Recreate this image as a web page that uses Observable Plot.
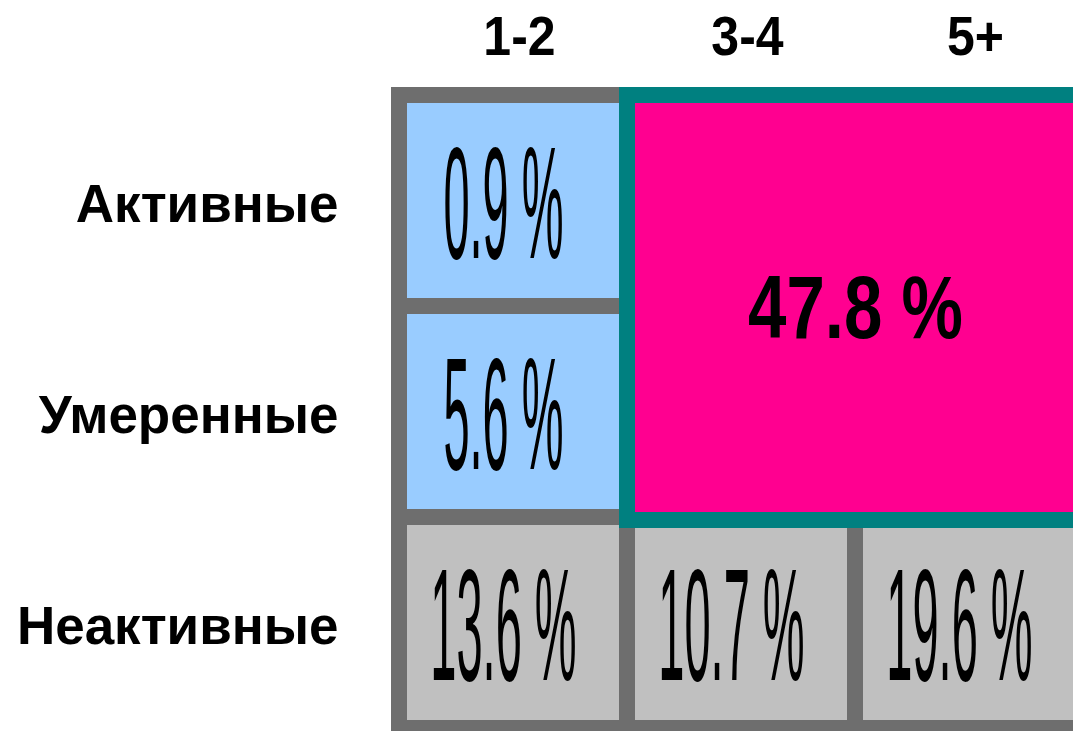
<!DOCTYPE html>
<html>
<head>
<meta charset="utf-8">
<script src="https://cdn.jsdelivr.net/npm/d3@7"></script>
<script src="https://cdn.jsdelivr.net/npm/@observablehq/plot@0.6"></script>
<style>
  html, body { margin: 0; padding: 0; background: #fff; }
  #chart svg { display: block; }
</style>
</head>
<body>
<div id="chart"></div>
<script>
// Column categories (number of ...), row categories (activity level)
const columns = ["1-2", "3-4", "5+"];
const rows = ["Активные", "Умеренные", "Неактивные"];

// Individual cells: row index, column index, percentage
const cellRows = [0, 1, 2, 2, 2];
const cellCols = [0, 0, 0, 1, 2];
const cellValues = [0.9, 5.6, 13.6, 10.7, 19.6];

// Merged cell (rows 0-1, columns 1-2)
const mergedRows = [0, 2];
const mergedCols = [1, 3];
const mergedValue = 47.8;

const cells = cellValues.map((v, i) => ({row: cellRows[i], col: cellCols[i], value: v}));
const merged = [{r1: mergedRows[0], r2: mergedRows[1], c1: mergedCols[0], c2: mergedCols[1], value: mergedValue}];
const colData = columns.map((c, i) => ({label: c, i}));
const rowData = rows.map((r, i) => ({label: r, i}));

const GRID = "#6e6e6e", BLUE = "#99ccff", LIGHT = "#c0c0c0", PINK = "#ff0090", TEAL = "#008080";
const fmt = v => `${v.toFixed(1)} %`;
const FONT = "Liberation Sans, Arial, sans-serif";

const svg = Plot.plot({
  width: 1073,
  height: 731,
  margin: 0,
  style: {background: "#fff", overflow: "hidden"},
  x: {type: "linear", domain: [0, 3], range: [399, 1083], axis: null},
  y: {type: "linear", domain: [0, 3], range: [95, 728], axis: null},
  marks: [
    Plot.rect(cells, {
      x1: d => d.col, x2: d => d.col + 1,
      y1: d => d.row, y2: d => d.row + 1,
      fill: d => d.row === 2 ? LIGHT : BLUE,
      stroke: GRID, strokeWidth: 16
    }),
    Plot.rect(merged, {
      x1: "c1", x2: "c2", y1: "r1", y2: "r2",
      fill: PINK, stroke: TEAL, strokeWidth: 16, insetBottom: -3
    }),
    Plot.text(cells, {
      x: d => d.col + 0.5, y: d => d.row + 0.5,
      text: d => fmt(d.value),
      fontFamily: FONT, fontSize: 47, fill: "#000", dx: -10, dy: 6,
      ariaDescription: "values"
    }),
    Plot.text(merged, {
      x: d => (d.c1 + d.c2) / 2, y: d => (d.r1 + d.r2) / 2,
      text: d => fmt(d.value),
      fontFamily: FONT, fontWeight: "bold", fontSize: 69, fill: "#000", dy: 3,
      ariaDescription: "merged"
    }),
    Plot.text(colData, {
      x: d => d.i + 0.5, y: 0, text: "label",
      fontFamily: FONT, fontWeight: "bold", fontSize: 50, fill: "#000", dx: 6, dy: -58,
      ariaDescription: "headers"
    }),
    Plot.text(rowData, {
      x: 0, y: d => d.i + 0.5, text: "label",
      fontFamily: FONT, fontWeight: "bold", fontSize: 53, fill: "#000",
      textAnchor: "end", dx: -61, dy: 4,
      ariaDescription: "rows"
    })
  ]
});

// Stretch texts vertically around their anchor (the original uses tall, compressed glyphs)
function stretch(label, sx, sy) {
  const g = svg.querySelector(`g[aria-description="${label}"]`);
  if (!g) return;
  g.querySelectorAll("text").forEach(t => {
    const tr = t.getAttribute("transform") || "";
    t.setAttribute("transform", `${tr} scale(${sx},${sy})`);
  });
}
stretch("values", 1, 3.4);
stretch("merged", 1, 1.28);
stretch("headers", 1, 1.12);

document.getElementById("chart").appendChild(svg);
</script>
</body>
</html>
